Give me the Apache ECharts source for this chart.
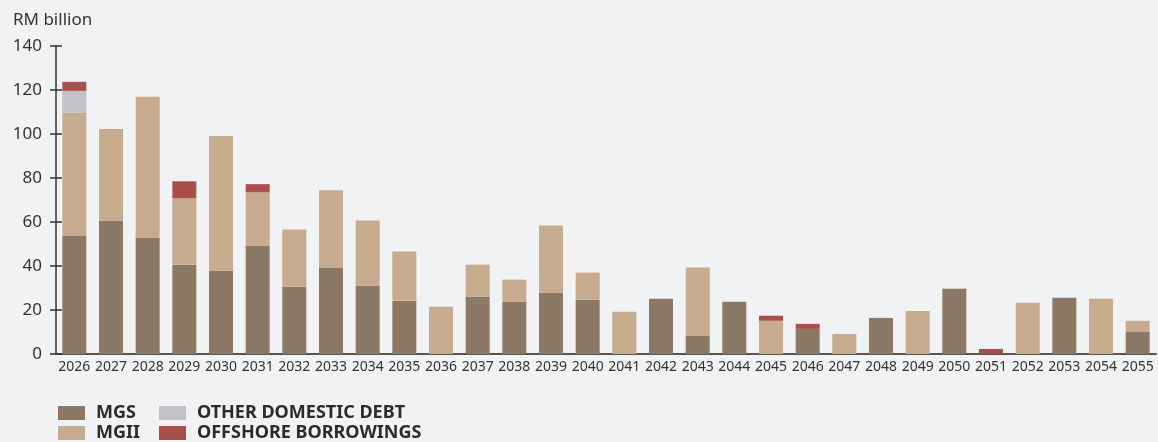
<!DOCTYPE html>
<html>
<head>
<meta charset="utf-8">
<script src="https://cdn.jsdelivr.net/npm/echarts@6/dist/echarts.min.js"></script>
<style>
html,body{margin:0;padding:0;background:#f1f2f4;}
#c{width:1158px;height:442px;}
</style>
</head>
<body>
<div id="c"></div>
<script>
const years = ['2026','2027','2028','2029','2030','2031','2032','2033','2034','2035','2036','2037','2038','2039','2040','2041','2042','2043','2044','2045','2046','2047','2048','2049','2050','2051','2052','2053','2054','2055'];
const mgs      = [53.9,60.7,53.0,40.6,37.9,49.3,30.6,39.3,31.0,24.2,0,26.0,23.7,27.9,24.7,0,25.1,8.2,23.7,0,11.4,0,16.4,0,29.7,0,0,25.6,0,10.0];
const mgii     = [55.7,41.6,63.9,30.2,61.2,24.2,26.0,35.1,29.7,22.4,21.5,14.6,10.1,30.5,12.3,19.2,0,31.1,0,15.1,0,9.1,0,19.6,0,0,23.3,0,25.1,5.1];
const other    = [10.0,0,0,0,0,0,0,0,0,0,0,0,0,0,0,0,0,0,0,0,0,0,0,0,0,0,0,0,0,0];
const offshore = [4.1,0,0,7.7,0,3.7,0,0,0,0,0,0,0,0,0,0,0,0,0,2.3,2.3,0,0,0,0,2.3,0,0,0,0];
const yTicks = [0,20,40,60,80,100,120,140];

const chart = echarts.init(document.getElementById('c'));
const colors = {MGS:'#8c7965', MGII:'#c6ab8f', OTHER:'#c2c1c5', OFF:'#aa4e4c'};
function ser(name, data, color){
  return {name:name, type:'bar', stack:'t', data:data, barWidth:24,
    itemStyle:{color:color}, emphasis:{disabled:true}, yAxisIndex:0};
}
const legendText = {color:'#2b2b2b', fontSize:18, fontWeight:'bold', fontFamily:'Noto Sans', lineHeight:20, padding:[0,0,0,6]};
const legendBase = {orient:'vertical', top:403, height:42, padding:0, itemWidth:27, itemHeight:14, itemGap:0, icon:'rect', textStyle:legendText, selectedMode:false};
chart.setOption({
  backgroundColor:'#f1f2f4',
  animation:false,
  title:{text:'RM billion', left:8, top:7, textStyle:{fontSize:17, fontWeight:'normal', color:'#333', fontFamily:'Noto Sans'}},
  grid:{left:56, right:2, top:46, bottom:88, containLabel:false},
  legend:[
    Object.assign({}, legendBase, {data:['MGS','MGII'], left:58}),
    Object.assign({}, legendBase, {data:['OTHER DOMESTIC DEBT','OFFSHORE BORROWINGS'], left:159})
  ],
  xAxis:{type:'category', data:years,
    axisLine:{lineStyle:{color:'#555', width:2}}, axisTick:{show:false},
    axisLabel:{interval:0, margin:6, fontSize:14, color:'#333', fontFamily:'Noto Sans'}},
  yAxis:[
    {type:'value', min:0, max:140, interval:20, splitLine:{show:false},
     axisLine:{show:true, lineStyle:{color:'#333', width:1.5}},
     axisTick:{show:true, length:6, lineStyle:{color:'#333', width:1.5}},
     axisLabel:{margin:14, fontSize:17, color:'#333', fontFamily:'Noto Sans',
       formatter:function(v){return yTicks.indexOf(v)>=0?String(v):'';}}},
    {type:'value', min:0, max:140, interval:20, position:'left', splitLine:{show:false},
     axisLine:{show:false}, axisLabel:{show:false},
     axisTick:{show:true, inside:true, length:6, lineStyle:{color:'#333', width:1.5}}}
  ],
  series:[
    ser('MGS', mgs, colors.MGS),
    ser('MGII', mgii, colors.MGII),
    ser('OTHER DOMESTIC DEBT', other, colors.OTHER),
    ser('OFFSHORE BORROWINGS', offshore, colors.OFF)
  ]
});
</script>
</body>
</html>
